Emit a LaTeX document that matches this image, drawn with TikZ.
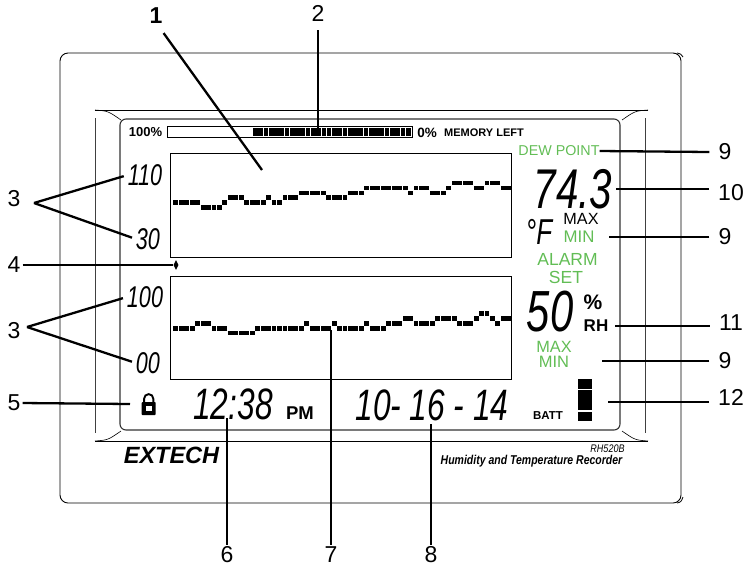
\documentclass[tikz,border=0pt]{standalone}
\usepackage{fontspec}
\setmainfont{Liberation Sans}
\newfontfamily\lcdfont[FakeStretch=0.72]{Liberation Sans}
\newfontfamily\narrowfont[FakeStretch=0.82]{Liberation Sans}
\usetikzlibrary{shapes.geometric}
\definecolor{lcdgreen}{HTML}{62BD55}

\begin{document}
\begin{tikzpicture}[x=1pt, y=-1pt, leader/.style = {line width=2.3pt}, callnum/.style = {font=\fontsize{23}{23}\selectfont, inner xsep=9pt, inner ysep=1.5pt}, leftnum/.style = {callnum, inner xsep=2pt}, topnum/.style = {callnum, inner xsep=1pt, inner ysep=9pt}, lcd/.style = {font=\lcdfont\itshape\fontsize{#1}{#1}\selectfont, inner sep=0pt}, caption/.style = {font=\fontsize{#1}{#1}\selectfont\bfseries, inner sep=0pt}, green/.style = {font=\fontsize{#1}{#1}\selectfont, text=lcdgreen, inner sep=0pt}, plotbox/.style = {draw, line width=0.9pt}, thinline/.style = {line width=0.8pt, black!75}]

    \useasboundingbox (0,0) rectangle (751,566);

    % housing
    \draw[line width=0.9pt, rounded corners=8pt] (60,53) rectangle (681,503);
    \draw[line width=0.8pt] (677,53) .. controls (681,54) .. (683,57);
    \draw[line width=0.8pt] (677,503) .. controls (681,502) .. (683,497);
    \draw[line width=0.8pt] (95,110) -- (648,110);
    \draw[line width=0.8pt] (95,441) -- (648,441);
    \draw[thinline] (95,118) -- (95,433);
    \draw[thinline] (645,118) -- (645,433);
    \draw[line width=0.6pt] (95,110) .. controls (108,111) .. (121,120);
    \draw[line width=0.6pt] (648,110) .. controls (635,111) .. (622,120);
    \draw[line width=0.6pt] (95,441) .. controls (108,440) .. (121,431);
    \draw[line width=0.6pt] (648,441) .. controls (635,440) .. (622,431);
    \draw[line width=1.1pt, black!80, rounded corners=6pt] (120,119) rectangle (620,430);

    % memory bar
    \node[caption=13] (full) at (145.5,132.5) {100\%};
    \node[caption=13.5] (empty) at (427,133) {0\%};
    \node[caption=11] (memory) at (484,132.5) {MEMORY LEFT};
    \draw[line width=0.9pt] (167,126) rectangle (412,137.5);
    \foreach \k in {0,...,29}
        \fill ({253+5.27*\k},128) rectangle +(4.7,8);

    % plots
    \draw[plotbox] (170,153) rectangle (511,257);
    \draw[plotbox] (170,276) rectangle (511,379);
    \foreach \lev [count=\k from 0] in {0,0,0,0,0,-1,-1,-1,-1,0,1,1,1,0,0,0,0,1,0,0,1,1,1,2,2,2,2,2,1,1,1,1,2,2,2,3,3,3,3,3,3,3,3,2,3,3,3,2,2,2,3,4,4,4,4,3,3,4,4,4,3,3}
        \fill ({173.3+5.46*\k},{202.5-4.9*\lev-2.2}) rectangle +(4.9,4.4);
    \foreach \lev [count=\k from 0] in {0,0,0,0,1,1,1,0,0,0,-1,-1,-1,-1,-1,0,0,0,0,0,0,0,0,0,1,0,0,0,0,1,0,0,0,0,0,1,0,0,0,1,1,1,2,2,1,1,1,1,2,2,2,2,1,1,1,2,3,3,2,1,2,2}
        \fill ({173.3+5.46*\k},{328.3-4.9*\lev-2.2}) rectangle +(4.9,4.4);
    \node[diamond, fill, inner sep=0pt, minimum width=5pt, minimum height=10pt] (marker) at (176,265) {};

    % readings
    \node[lcd=30] (high) at (145,175) {110};
    \node[lcd=30] (low) at (148,239) {30};
    \node[lcd=30] (rhhigh) at (145,297) {100};
    \node[lcd=30] (rhlow) at (148,363) {00};
    \node[lcd=56] (temp) at (573,189) {74.3};
    \node[lcd=36] (unit) at (539,232) {°F};
    \node[lcd=58] (rh) at (550,312) {50};
    \node[lcd=44] (clock) at (233,404) {12:38};
    \node[lcd=44] (date) at (432,405) {10- 16 - 14};

    % flags
    \node[green=14.3] (dew) at (559,151) {DEW POINT};
    \node[font=\fontsize{16.2}{16.2}\selectfont, inner sep=0pt] (maxa) at (581,219) {MAX};
    \node[green=16.8] (mina) at (579,237) {MIN};
    \node[green=17.5] (alarm) at (567.5,259) {ALARM};
    \node[green=17.5] (set) at (566,277) {SET};
    \node[green=16.3] (maxb) at (554,347) {MAX};
    \node[green=16.5] (minb) at (554,362) {MIN};
    \node[caption=21] (percent) at (593,302) {\%};
    \node[caption=17] (rhmark) at (596,326) {RH};
    \node[caption=18.5] (pm) at (300,413) {PM};
    \node[caption=11.5] (batt) at (548,416) {BATT};

    % battery and lock
    \fill (578,379) rectangle (592,389);
    \fill (578,390) rectangle (592,410);
    \fill (578,411.5) rectangle (592,421);
    \draw[line width=1.9pt] (144.1,403) -- (144.1,398.7) arc (180:360:4.6) -- (153.3,403);
    \fill[rounded corners=0.8pt] (141.7,402) rectangle (155.7,415);
    \fill[white] (146,405.5) rectangle (151.5,411);

    % nameplate
    \node[font=\fontsize{23.5}{23.5}\selectfont\bfseries\itshape, inner sep=0pt] (brand) at (171.5,455) {EXTECH};
    \node[font=\narrowfont\fontsize{11}{11}\selectfont\itshape, inner sep=0pt] (model) at (607.5,449) {RH520B};
    \node[font=\narrowfont\fontsize{12.8}{12.8}\selectfont\bfseries\itshape, inner sep=0pt] (title) at (531.5,461) {Humidity and Temperature Recorder};

    % callouts
    \node[topnum] (numa) at (156,16) {\textbf{1}};
    \node[topnum] (numb) at (318,13) {2};
    \node[leftnum] (numc) at (14,199) {3};
    \node[leftnum] (numd) at (14,265) {4};
    \node[leftnum] (nume) at (14,331) {3};
    \node[leftnum] (numf) at (14,403) {5};
    \node[callnum] (numg) at (227,554.5) {6};
    \node[callnum] (numh) at (331,554.5) {7};
    \node[callnum] (numi) at (431,554.5) {8};
    \node[callnum] (numj) at (725,152) {9};
    \node[callnum] (numk) at (731,193) {10};
    \node[callnum] (numl) at (725,237) {9};
    \node[callnum] (numm) at (731,323) {11};
    \node[callnum] (numn) at (725,361) {9};
    \node[callnum] (numo) at (731,397) {12};

    \coordinate (plotpoint) at (262,170);
    \coordinate (barpoint) at (318,128);
    \coordinate (apexa) at (34,203);
    \coordinate (apexb) at (27,327);
    \coordinate (tracepoint) at (331,330);

    \draw[leader] (numa.south east) -- (plotpoint);
    \draw[leader] (numb.south) -- (barpoint);
    \draw[leader, shorten >=4pt] (apexa) -- (high.west);
    \draw[leader, shorten >=4pt] (apexa) -- (low.west);
    \draw[leader] (numd.east) -- (marker.west);
    \draw[leader, shorten >=4pt] (apexb) -- (rhhigh.west);
    \draw[leader, shorten >=4pt] (apexb) -- (rhlow.west);
    \draw[leader] (numf.east) -- (130,404);
    \draw[leader] (numg.north) -- (227,418);
    \draw[leader] (numh.north) -- (tracepoint);
    \draw[leader] (numi.north) -- (431,424);
    \draw[leader] (numj.west) -- (dew.east);
    \draw[leader] (numk.west |- temp.east) -- (616,189);
    \draw[leader] (numl.west) -- (609,237);
    \draw[leader] (numm.west |- rhmark.east) -- (615,326);
    \draw[leader] (numn.west) -- (602,361);
    \draw[leader] (numo.west |- 0,402) -- (608,402);

    \end{tikzpicture}
\end{document}
